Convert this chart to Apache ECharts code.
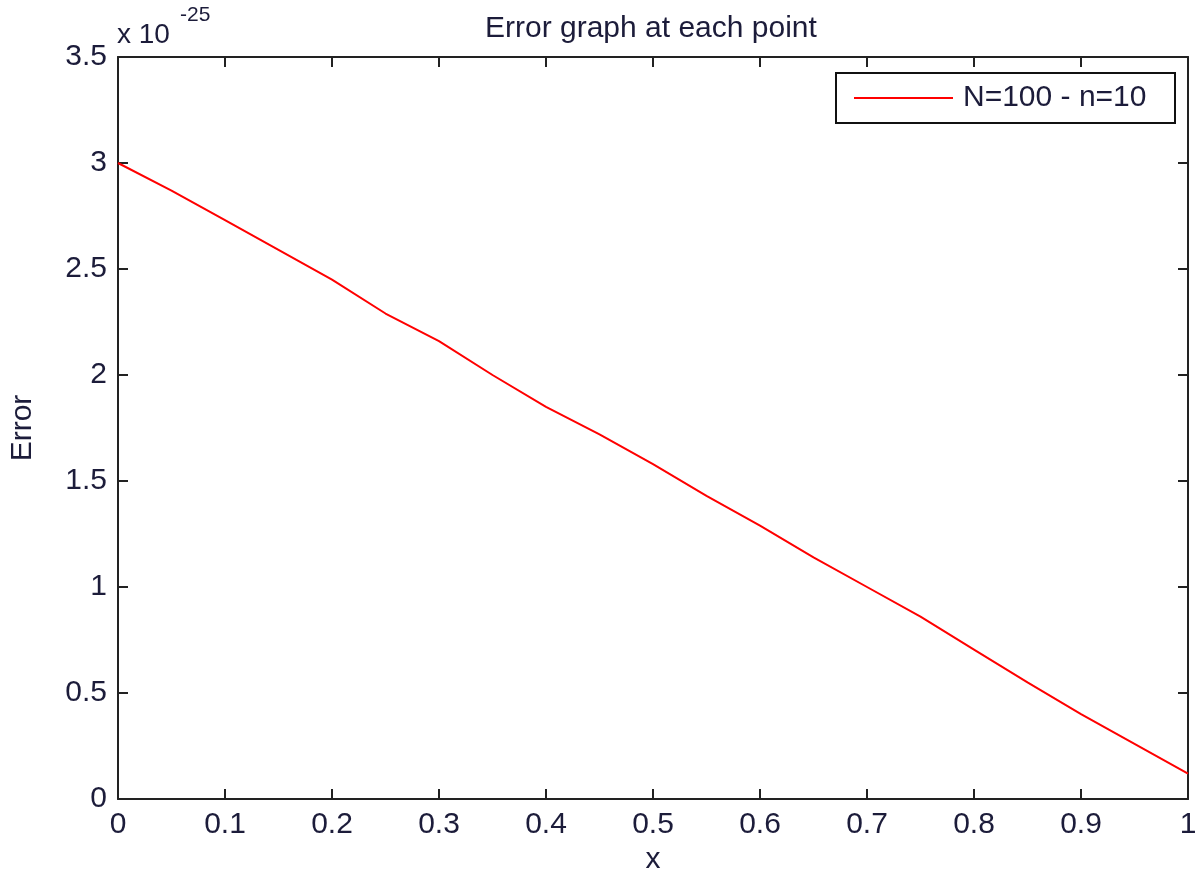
<!DOCTYPE html>
<html>
<head>
<meta charset="utf-8">
<script src="https://cdn.jsdelivr.net/npm/echarts@6/dist/echarts.min.js"></script>
<style>
html,body{margin:0;padding:0;background:#fff;}
#chart{width:1201px;height:874px;}
</style>
</head>
<body>
<div id="chart"></div>
<script>
// Data (values in units of 1e-25)
const xValues = [0, 0.05, 0.1, 0.15, 0.2, 0.25, 0.3, 0.35, 0.4, 0.45, 0.5, 0.55, 0.6, 0.65, 0.7, 0.75, 0.8, 0.85, 0.9, 0.95, 1.0];
const errorValues = [3.00, 2.87, 2.73, 2.59, 2.45, 2.29, 2.16, 2.00, 1.85, 1.72, 1.58, 1.43, 1.29, 1.14, 1.00, 0.86, 0.705, 0.55, 0.40, 0.26, 0.12];
const seriesName = 'N=100 - n=10';
const titleText = 'Error graph at each point';
const xName = 'x';
const yName = 'Error';

const FONT = '"Liberation Sans", Arial, sans-serif';
const TXT = '#1c1c3a';
const AX = '#222';

const chart = echarts.init(document.getElementById('chart'), null, {renderer: 'canvas'});
function axisCommon() {
  return {
    axisLine: {show: true, onZero: false, lineStyle: {color: AX, width: 2}},
    axisTick: {show: true, inside: true, length: 10, lineStyle: {color: AX, width: 2}},
    splitLine: {show: false}
  };
}
const option = {
  animation: false,
  backgroundColor: '#fff',
  title: {
    text: titleText, left: 480, top: 9,
    textStyle: {fontFamily: FONT, fontSize: 30, fontWeight: 'normal', color: TXT}
  },
  grid: {left: 118, right: 13, top: 57, bottom: 75, containLabel: false, outerBoundsMode: 'none'},
  legend: {
    left: 836, top: 73,
    padding: [10, 12, 10, 18],
    borderColor: '#111', borderWidth: 2, backgroundColor: '#fff',
    itemWidth: 99, itemHeight: 2,
    icon: 'rect',
    textStyle: {fontFamily: FONT, fontSize: 30, color: TXT, padding: [0, 0, 0, 5], width: 200, lineHeight: 30},
    data: [{name: seriesName, icon: 'rect'}]
  },
  xAxis: [
    Object.assign({
      type: 'value', min: 0, max: 1, interval: 0.1, position: 'bottom',
      name: xName, nameLocation: 'middle', nameGap: 45,
      nameTextStyle: {fontFamily: FONT, fontSize: 30, color: TXT},
      axisLabel: {fontFamily: FONT, fontSize: 30, color: TXT, margin: 11}
    }, axisCommon()),
    Object.assign({
      type: 'value', min: 0, max: 1, interval: 0.1, position: 'top',
      axisLabel: {show: false}
    }, axisCommon())
  ],
  yAxis: [
    Object.assign({
      type: 'value', min: 0, max: 3.5, interval: 0.5, position: 'left',
      name: yName, nameLocation: 'middle', nameGap: 80, nameRotate: 90,
      nameTextStyle: {fontFamily: FONT, fontSize: 30, color: TXT},
      axisLabel: {fontFamily: FONT, fontSize: 30, color: TXT, margin: 11}
    }, axisCommon()),
    Object.assign({
      type: 'value', min: 0, max: 3.5, interval: 0.5, position: 'right',
      axisLabel: {show: false}
    }, axisCommon())
  ],
  graphic: [
    {type: 'text', left: 117, top: 21, style: {text: 'x 10', fontFamily: FONT, fontSize: 28, fill: TXT}},
    {type: 'text', left: 180, top: 5, style: {text: '-25', fontFamily: FONT, fontSize: 21, fill: TXT}}
  ],
  series: [{
    name: seriesName,
    type: 'line',
    xAxisIndex: 0, yAxisIndex: 0,
    symbol: 'none',
    lineStyle: {color: '#ff0000', width: 2},
    itemStyle: {color: '#ff0000'},
    data: xValues.map((x, i) => [x, errorValues[i]])
  }]
};
chart.setOption(option);
</script>
</body>
</html>
